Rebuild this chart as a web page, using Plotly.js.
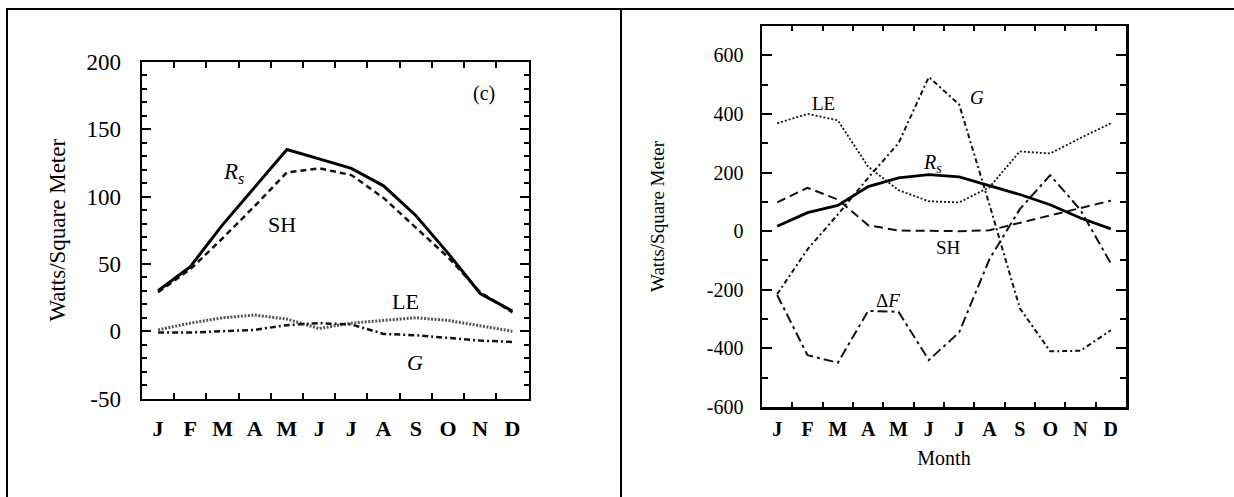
<!DOCTYPE html>
<html><head><meta charset="utf-8">
<script src="https://cdn.plot.ly/plotly-3.0.1.min.js"></script>
<style>html,body{margin:0;padding:0;background:#fff;} #chart{width:1234px;height:497px;}</style>
</head><body><div id="chart"></div>
<script>
// ---- data ----
const months = ['J','F','M','A','M','J','J','A','S','O','N','D'];
const monthIndex = [1,2,3,4,5,6,7,8,9,10,11,12];

// Panel (c), left
const leftRs = [30, 48, 79, 107, 135, 128, 121, 108, 86, 58, 28, 15];
const leftSH = [29, 46, 69, 93, 118, 121, 116, 99, 77, 55, 29, 14];
const leftLE = [1, 6, 10, 12, 9, 2, 6, 8, 10, 8, 4, 0];
const leftG  = [-1, -1, 0, 1, 4.5, 6, 5, -2, -3, -5, -7, -8];

// Right panel
const rightRs = [17, 63, 88, 152, 182, 193, 185, 156, 125, 90, 45, 8];
const rightLE = [368, 400, 378, 220, 140, 102, 98, 150, 272, 265, 318, 368];
const rightSH = [98, 148, 108, 20, 2, 0, 0, 3, 28, 52, 78, 104];
const rightG  = [-215, -62, 57, 182, 300, 526, 432, 90, -263, -410, -408, -338];
const rightDF = [-218, -423, -449, -272, -275, -440, -345, -95, 75, 191, 72, -110];

const leftYTicks = [-50, 0, 50, 100, 150, 200];
const rightYTicks = [-600, -400, -200, 0, 200, 400, 600];

// ---- layout helpers ----
const W = 1234, H = 497;
const px = v => v / W;
const py = v => 1 - v / H;
const SERIF = 'Liberation Serif';

function line(x, y, xa, ya, color, width, dash) {
  return {x: x, y: y, xaxis: xa, yaxis: ya, type: 'scatter', mode: 'lines',
    line: {color: color, width: width, dash: dash}, hoverinfo: 'skip', showlegend: false};
}

const traces = [
  line(monthIndex, leftLE, 'x', 'y', '#555', 3, '2px,1.5px'),
  line(monthIndex, leftG, 'x', 'y', '#111', 2.5, '6px,3px,2px,3px'),
  line(monthIndex, leftSH, 'x', 'y', '#111', 2.5, '6px,4px'),
  line(monthIndex, leftRs, 'x', 'y', '#000', 3, 'solid'),
  line(monthIndex, rightLE, 'x2', 'y2', '#111', 1.8, '2px,2px'),
  line(monthIndex, rightSH, 'x2', 'y2', '#111', 2, '9px,5px'),
  line(monthIndex, rightG, 'x2', 'y2', '#111', 2, '5px,3px,2px,3px'),
  line(monthIndex, rightDF, 'x2', 'y2', '#111', 2, '10px,4px,3px,4px'),
  line(monthIndex, rightRs, 'x2', 'y2', '#000', 2.8, 'solid')
];

function xAxis(domain, anchor, fs, tlen, standoff) {
  return {domain: domain, anchor: anchor, range: [0.5, 12.5],
    tickmode: 'array', tickvals: monthIndex, ticktext: months,
    ticks: 'inside', ticklen: 0, tickwidth: 0,
    showline: true, linecolor: '#000', linewidth: 2.5, mirror: 'allticks',
    showgrid: false, zeroline: false, fixedrange: true,
    ticklabelstandoff: standoff,
    tickfont: {family: SERIF, size: fs, color: '#000', weight: 'bold'},
    minor: {tick0: 0.5, dtick: 1, ticks: 'inside', ticklen: tlen, tickwidth: 2, tickcolor: '#000', showgrid: false}};
}
function yAxis(domain, anchor, range, vals, minorD, fs, tlen, mlen, standoff, title, tfs, tstand) {
  return {domain: domain, anchor: anchor, range: range,
    tickmode: 'array', tickvals: vals, ticktext: vals.map(String),
    ticks: 'inside', ticklen: tlen, tickwidth: 2, tickcolor: '#000',
    showline: true, linecolor: '#000', linewidth: 2.5, mirror: 'allticks',
    showgrid: false, zeroline: false, fixedrange: true,
    ticklabelstandoff: standoff,
    tickfont: {family: SERIF, size: fs, color: '#000'},
    minor: {dtick: minorD, ticks: 'inside', ticklen: mlen, tickwidth: 2, tickcolor: '#000', showgrid: false},
    title: {text: title, font: {family: SERIF, size: tfs, color: '#000'}, standoff: tstand}};
}

const layout = {
  width: W, height: H, margin: {l: 0, r: 0, t: 0, b: 0, pad: 0},
  paper_bgcolor: '#fff', plot_bgcolor: '#fff', showlegend: false,
  font: {family: SERIF, color: '#000'},
  xaxis: xAxis([px(142), px(528.5)], 'y', 22, 6, 9),
  yaxis: yAxis([py(398.5), py(62)], 'x', [-50, 200], leftYTicks, 10, 23, 9, 5, 14, 'Watts/Square Meter', 23, 15),
  xaxis2: Object.assign(xAxis([px(762), px(1126)], 'y2', 20, 5, 2),
    {title: {text: 'Month', font: {family: SERIF, size: 20, color: '#000'}, standoff: 13}}),
  yaxis2: yAxis([py(407), py(26)], 'x2', [-600, 700], rightYTicks, 100, 20, 10, 6, 12, 'Watts/Square Meter', 19, 37),
  shapes: [
    {type: 'line', xref: 'paper', yref: 'paper', x0: px(7), x1: px(7), y0: py(8), y1: 0, line: {color: '#000', width: 2}},
    {type: 'line', xref: 'paper', yref: 'paper', x0: px(6), x1: 1, y0: py(9), y1: py(9), line: {color: '#000', width: 2}},
    {type: 'line', xref: 'paper', yref: 'paper', x0: px(621), x1: px(621), y0: py(8), y1: 0, line: {color: '#000', width: 2}}
  ],
  annotations: [
    {text: '<i>R<sub>s</sub></i>', x: px(233), y: py(173), size: 23},
    {text: 'SH', x: px(282), y: py(224), size: 22},
    {text: 'LE', x: px(405), y: py(301), size: 22},
    {text: '<i>G</i>', x: px(415), y: py(362), size: 22},
    {text: '(c)', x: px(484), y: py(93), size: 20},
    {text: 'LE', x: px(823), y: py(103), size: 19},
    {text: '<i>G</i>', x: px(977), y: py(97), size: 19},
    {text: '<i>R<sub>s</sub></i>', x: px(932), y: py(163), size: 20},
    {text: 'SH', x: px(948), y: py(248), size: 19},
    {text: '\u0394<i>F</i>', x: px(888), y: py(300), size: 19}
  ].map(a => ({text: a.text, x: a.x, y: a.y, xref: 'paper', yref: 'paper', showarrow: false,
    xanchor: 'center', yanchor: 'middle', font: {family: SERIF, size: a.size, color: '#000'}}))
};

Plotly.newPlot('chart', traces, layout, {staticPlot: true, displayModeBar: false});
</script>
</body></html>
